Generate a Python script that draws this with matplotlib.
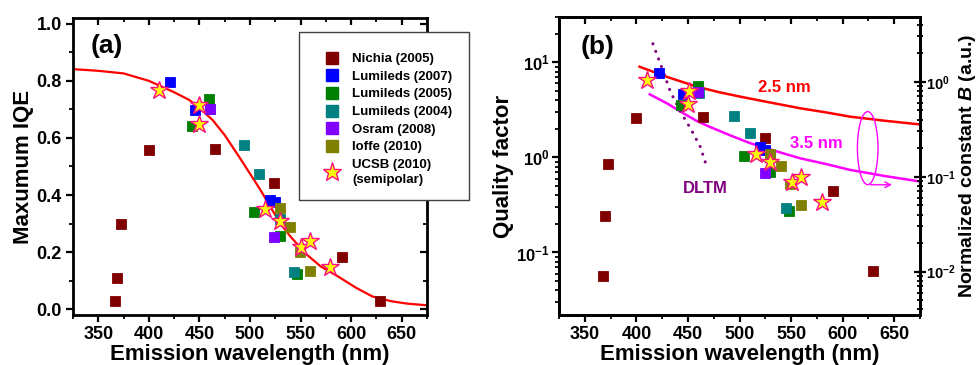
import matplotlib
matplotlib.use("Agg")
import matplotlib.pyplot as plt
from matplotlib.patches import Ellipse, Rectangle, FancyArrowPatch
from matplotlib.lines import Line2D
from matplotlib.ticker import MultipleLocator, LogLocator, NullFormatter, LogFormatterSciNotation

plt.rcParams['font.family'] = ['Liberation Sans', 'DejaVu Sans']
plt.rcParams['font.weight'] = 'bold'
plt.rcParams['mathtext.fontset'] = 'custom'
plt.rcParams['mathtext.rm'] = 'Liberation Sans:bold'
plt.rcParams['mathtext.bf'] = 'Liberation Sans:bold'
plt.rcParams['mathtext.it'] = 'Liberation Sans:bold:italic'
plt.rcParams['axes.linewidth'] = 2.0

# ---------------- data: panel (a) Maximum IQE ----------------
series_names = ["Nichia (2005)", "Lumileds (2007)", "Lumileds (2005)", "Lumileds (2004)",
                "Osram (2008)", "Ioffe (2010)", "UCSB (2010)\n(semipolar)"]
series_colors = ["#800000", "#0000FF", "#008000", "#008080", "#8000FF", "#808000", "#FFFF00"]

nichia_a_x = [367, 369, 372, 400, 465, 524, 591, 629]
nichia_a_y = [0.028, 0.108, 0.298, 0.559, 0.561, 0.441, 0.182, 0.030]
lum07_a_x = [421, 446, 520, 525]
lum07_a_y = [0.795, 0.698, 0.382, 0.376]
lum05_a_x = [443, 459, 504, 530, 547]
lum05_a_y = [0.642, 0.736, 0.340, 0.257, 0.122]
lum04_a_x = [460, 494, 509, 530, 544]
lum04_a_y = [0.700, 0.574, 0.475, 0.315, 0.131]
osram_a_x = [460, 524]
osram_a_y = [0.703, 0.254]
ioffe_a_x = [530, 540, 549, 559]
ioffe_a_y = [0.353, 0.289, 0.199, 0.135]
ucsb_a_x = [410, 450, 450, 515, 530, 550, 559, 579]
ucsb_a_y = [0.768, 0.716, 0.648, 0.352, 0.310, 0.217, 0.238, 0.148]

fit_a_x = [325, 350, 375, 400, 425, 440, 450, 463, 475, 490, 500, 510, 520, 530,
           540, 555, 570, 588, 605, 621, 640, 655, 675]
fit_a_y = [0.841, 0.835, 0.826, 0.800, 0.760, 0.733, 0.705, 0.663, 0.610, 0.530, 0.475,
           0.420, 0.360, 0.300, 0.255, 0.195, 0.150, 0.113, 0.075, 0.045, 0.028, 0.020, 0.014]

# ---------------- data: panel (b) Quality factor ----------------
nichia_b_x = [368, 370, 372, 400, 465, 525, 591, 629]
nichia_b_y = [0.057, 0.24, 0.86, 2.58, 2.64, 1.59, 0.444, 0.064]
lum07_b_x = [422, 445, 520, 525]
lum07_b_y = [7.7, 4.6, 1.3, 1.2]
lum05_b_x = [443, 460, 504, 530, 548]
lum05_b_y = [3.56, 5.65, 1.03, 0.705, 0.273]
lum04_b_x = [461, 495, 510, 530, 545]
lum04_b_y = [4.73, 2.73, 1.79, 1.0, 0.297]
osram_b_x = [460, 525]
osram_b_y = [4.9, 0.68]
ioffe_b_x = [530, 540, 549, 560]
ioffe_b_y = [1.09, 0.81, 0.53, 0.314]
ucsb_b_x = [410, 451, 450, 516, 530, 551, 560, 580]
ucsb_b_y = [6.54, 5.04, 3.65, 1.08, 0.885, 0.553, 0.624, 0.34]

# DLTM (left axis)
dltm_x = [416, 424, 433, 443, 453, 462, 469]
dltm_y = [15.7, 9.2, 4.9, 3.0, 1.97, 1.29, 0.75]

# Normalized constant B (right axis)
b25_x = [403, 430, 459, 480, 501, 530, 559, 585, 607, 640, 675]
b25_y = [1.44, 1.12, 0.885, 0.776, 0.695, 0.603, 0.525, 0.473, 0.429, 0.389, 0.355]
b35_x = [413, 430, 443, 458, 470, 490, 510, 535, 559, 585, 607, 640, 675]
b35_y = [0.736, 0.589, 0.483, 0.389, 0.339, 0.275, 0.226, 0.186, 0.156, 0.135, 0.118, 0.102, 0.089]

xticks = [350, 400, 450, 500, 550, 600, 650]

# ---------------- figure ----------------
fig = plt.figure(figsize=(9.77, 3.65), dpi=100)
ax1 = fig.add_axes([0.0747, 0.137, 0.3623, 0.8137])
ax2 = fig.add_axes([0.5722, 0.137, 0.3695, 0.8164])
ax3 = ax2.twinx()

SQ = dict(marker='s', linestyle='none', markersize=7.3, markeredgewidth=0.6)
ST = dict(marker='*', linestyle='none', markersize=13.5, markerfacecolor='#FFFF00',
          markeredgecolor='#FF1080', markeredgewidth=1.0)

def scatter_all(ax, sets):
    for (x, y), c in zip(sets[:6], series_colors[:6]):
        ax.plot(x, y, color=c, markeredgecolor=c, **SQ)
    ax.plot(sets[6][0], sets[6][1], **ST)

# panel a
ax1.plot(fit_a_x, fit_a_y, color='#FF0000', lw=1.6, zorder=1)
scatter_all(ax1, [(nichia_a_x, nichia_a_y), (lum07_a_x, lum07_a_y), (lum05_a_x, lum05_a_y),
                  (lum04_a_x, lum04_a_y), (osram_a_x, osram_a_y), (ioffe_a_x, ioffe_a_y),
                  (ucsb_a_x, ucsb_a_y)])
ax1.set_xlim(325, 675)
ax1.set_ylim(-0.02, 1.02)
ax1.set_xticks(xticks)
ax1.xaxis.set_minor_locator(MultipleLocator(25))
ax1.set_yticks([0.0, 0.2, 0.4, 0.6, 0.8, 1.0])
ax1.yaxis.set_minor_locator(MultipleLocator(0.1))
ax1.set_yticklabels(["0.0", "0.2", "0.4", "0.6", "0.8", "1.0"])
ax1.set_xlabel("Emission wavelength (nm)", fontsize=16, fontweight='bold', labelpad=1)
ax1.set_ylabel("Maxumum IQE", fontsize=16, fontweight='bold', labelpad=2)
ax1.text(0.05, 0.945, "(a)", transform=ax1.transAxes, fontsize=19, fontweight='bold',
         ha='left', va='top')

# panel b
ax3.plot(b25_x, b25_y, color='#FF0000', lw=1.8, zorder=1)
ax3.plot(b35_x, b35_y, color='#FF00FF', lw=1.8, zorder=1)
ax3.set_yscale('log')
ax3.set_ylim(0.0035, 4.8)
ax2.set_zorder(ax3.get_zorder() + 1)
ax2.patch.set_visible(False)

ax2.plot(dltm_x, dltm_y, color='#800080', lw=2.2, linestyle=(0, (0.05, 2.6)),
         dash_capstyle='round', zorder=1)
scatter_all(ax2, [(nichia_b_x, nichia_b_y), (lum07_b_x, lum07_b_y), (lum05_b_x, lum05_b_y),
                  (lum04_b_x, lum04_b_y), (osram_b_x, osram_b_y), (ioffe_b_x, ioffe_b_y),
                  (ucsb_b_x, ucsb_b_y)])
ax2.set_yscale('log')
ax2.set_xlim(325, 675)
ax2.set_ylim(0.022, 30)
ax2.set_xticks(xticks)
ax2.xaxis.set_minor_locator(MultipleLocator(25))
for ax in (ax2, ax3):
    ax.yaxis.set_major_locator(LogLocator(base=10, numticks=10))
    ax.yaxis.set_minor_locator(LogLocator(base=10, subs=range(2, 10), numticks=10))
    ax.yaxis.set_minor_formatter(NullFormatter())
    ax.yaxis.set_major_formatter(LogFormatterSciNotation())
ax2.set_xlabel("Emission wavelength (nm)", fontsize=16, fontweight='bold', labelpad=1)
ax2.set_ylabel("Quality factor", fontsize=16, fontweight='bold', labelpad=1)
ax3.set_ylabel(r"Normalized constant $\mathit{B}$ (a.u.)", fontsize=14, fontweight='bold')
ax3.yaxis.label.set_verticalalignment('center')
ax3.yaxis.label.set_horizontalalignment('center')
ax3.yaxis.set_label_coords(1.131, 0.5)
ax2.text(0.06, 0.94, "(b)", transform=ax2.transAxes, fontsize=19, fontweight='bold',
         ha='left', va='top')
ax2.text(0.551, 0.765, "2.5 nm", transform=ax2.transAxes, fontsize=12, fontweight='bold',
         color='#FF0000', ha='left', va='center')
ax2.text(0.64, 0.576, "3.5 nm", transform=ax2.transAxes, fontsize=12, fontweight='bold',
         color='#FF00FF', ha='left', va='center')
ax2.text(0.343, 0.423, "DLTM", transform=ax2.transAxes, fontsize=12, fontweight='bold',
         color='#800080', ha='left', va='center')
ax2.add_patch(Ellipse((0.855, 0.56), 0.057, 0.245, transform=ax2.transAxes, fill=False,
                      edgecolor='#FF00FF', lw=1.0))
ax2.add_patch(FancyArrowPatch((0.855, 0.437), (0.93, 0.437), transform=ax2.transAxes,
                              arrowstyle='->,head_length=4,head_width=2', color='#FF00FF',
                              lw=1.0, mutation_scale=1))

# tick styling
for ax in (ax1, ax2):
    ax.tick_params(axis='both', which='major', direction='out', length=5, width=1.6,
                   labelsize=13, pad=3)
    ax.tick_params(axis='both', which='minor', direction='out', length=3, width=1.3)
ax2.tick_params(axis='y', which='major', labelsize=12, pad=2)
sec = [ax1.secondary_xaxis('top'), ax1.secondary_yaxis('right'), ax2.secondary_xaxis('top')]
for s in sec:
    s.tick_params(which='major', direction='in', length=5, width=1.6, labelsize=0)
    s.tick_params(which='minor', direction='in', length=3, width=1.3)
    s.spines[:].set_visible(False)
sec[0].set_xticks(xticks); sec[0].xaxis.set_minor_locator(MultipleLocator(25))
sec[0].set_xticklabels([])
sec[1].set_yticks([0, 0.2, 0.4, 0.6, 0.8, 1.0]); sec[1].yaxis.set_minor_locator(MultipleLocator(0.1))
sec[1].set_yticklabels([])
sec[2].set_xticks(xticks); sec[2].xaxis.set_minor_locator(MultipleLocator(25))
sec[2].set_xticklabels([])
ax3.tick_params(axis='y', which='major', direction='inout', length=8, width=1.6, labelsize=10.5, pad=0)
ax3.tick_params(axis='y', which='minor', direction='inout', length=5, width=1.3)

# legend
handles = [Line2D([], [], color=c, markeredgecolor=c, marker='s', linestyle='none',
                  markersize=8) for c in series_colors[:6]]
handles.append(Line2D([], [], marker='*', linestyle='none', markersize=14,
                      markerfacecolor='#FFFF00', markeredgecolor='#FF1080', markeredgewidth=1.0))
leg = fig.legend(handles, series_names, loc='upper left', bbox_to_anchor=(0.3247, 0.873),
                 bbox_transform=fig.transFigure, frameon=False, borderpad=0,
                 handlelength=1.2, handletextpad=0.96, labelspacing=0.41,
                 prop={'family': 'Liberation Sans', 'weight': 'bold', 'size': 9.5})
for t in leg.get_texts():
    t.set_linespacing(1.3)
fig.add_artist(Rectangle((299.3 / 977, 1 - 200.3 / 365), 170 / 977, 168 / 365,
                         transform=fig.transFigure, fill=True, facecolor='white',
                         edgecolor='#404040', lw=1.0, zorder=2))
leg.set_zorder(3)

fig.savefig("out.png", dpi=100)
